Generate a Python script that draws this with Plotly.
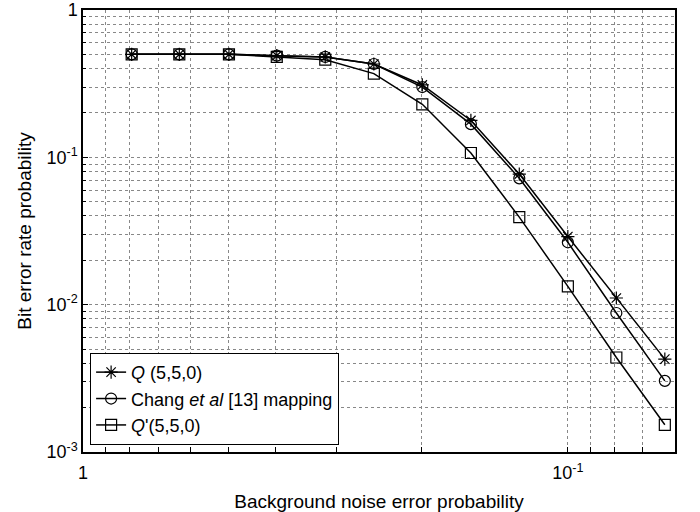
import plotly.graph_objects as go

x_vals = [0.0126, 0.0158, 0.0200, 0.0251, 0.0316, 0.0398, 0.0501, 0.0631, 0.0794, 0.1000, 0.1259, 0.1585]
q550 = [0.50, 0.50, 0.50, 0.49, 0.48, 0.43, 0.31, 0.178, 0.077, 0.0290, 0.0111, 0.00427]
chang = [0.50, 0.50, 0.50, 0.49, 0.48, 0.43, 0.30, 0.168, 0.072, 0.0265, 0.00878, 0.00304]
qp550 = [0.50, 0.50, 0.50, 0.48, 0.46, 0.37, 0.229, 0.107, 0.0393, 0.0133, 0.00438, 0.00153]

series_names = ["<i>Q</i> (5,5,0)", "Chang <i>et al</i> [13] mapping", "<i>Q</i>'(5,5,0)"]
series_symbols = ["asterisk-open", "circle-open", "square-open"]

x_grid = [0.01, 1/90, 1/80, 1/70, 1/60, 1/50, 1/40, 1/30, 1/20, 0.1, 1/9, 1/8, 1/7]
x_labels = ["1", "", "", "", "", "", "", "", "", "10<sup>-1</sup>", "", "", ""]
y_major = [1, 0.1, 0.01, 0.001]
y_labels = ["1", "10<sup>-1</sup>", "10<sup>-2</sup>", "10<sup>-3</sup>"]
y_minor = [m * d for d in (0.001, 0.01, 0.1) for m in range(2, 10)]

fig = go.Figure()
for ys, name, sym in zip([q550, chang, qp550], series_names, series_symbols):
    fig.add_trace(go.Scatter(
        x=x_vals, y=ys, name=name, mode="lines+markers",
        line=dict(color="black", width=1.5),
        marker=dict(symbol=sym, size=11, color="black", line=dict(width=1.2, color="black")),
    ))

font = "Liberation Sans, Arial, sans-serif"
fig.update_layout(
    width=700, height=512,
    margin=dict(l=83, r=25, t=10, b=60),
    paper_bgcolor="white", plot_bgcolor="white",
    font=dict(family=font, size=18, color="black"),
    showlegend=True,
    legend=dict(
        x=0.012, y=0.016, xanchor="left", yanchor="bottom",
        bordercolor="black", borderwidth=1, bgcolor="white",
        font=dict(size=18), tracegroupgap=0, itemwidth=30,
    ),
    xaxis=dict(
        type="log", range=[-2, -0.779], automargin=False,
        tickvals=x_grid, ticktext=x_labels,
        showgrid=True, gridcolor="#888", griddash="dot", gridwidth=1,
        ticks="inside", ticklen=5, tickcolor="black",
        showline=True, linecolor="black", linewidth=1.5, mirror=True,
        zeroline=False, tickfont=dict(size=18), ticklabelstandoff=4,
        title=dict(text="Background noise error probability", font=dict(size=19), standoff=12),
    ),
    yaxis=dict(
        type="log", range=[-3, 0], automargin=False,
        tickvals=y_major, ticktext=y_labels,
        showgrid=True, gridcolor="#888", griddash="dot", gridwidth=1,
        ticks="inside", ticklen=5, tickcolor="black",
        showline=True, linecolor="black", linewidth=1.5, mirror=True,
        zeroline=False, tickfont=dict(size=18),
        minor=dict(tickvals=y_minor, showgrid=True, gridcolor="#888", griddash="dot",
                   ticks="inside", ticklen=3, tickcolor="black"),
        title=dict(text="Bit error rate probability", font=dict(size=19), standoff=10),
    ),
)

fig.write_html("out.html")
